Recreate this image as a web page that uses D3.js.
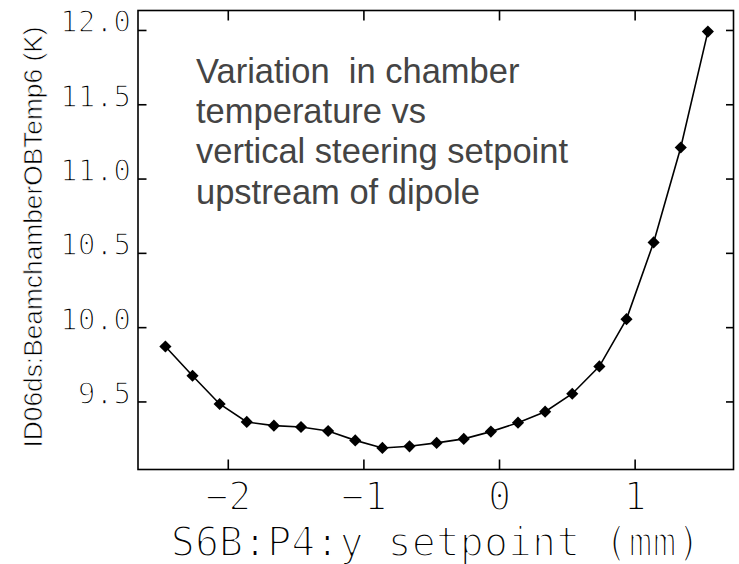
<!DOCTYPE html>
<html>
<head>
<meta charset="utf-8">
<script src="https://cdn.jsdelivr.net/npm/d3@7"></script>
<style>
  html, body { margin: 0; padding: 0; background: #fff; }
  svg { display: block; }
</style>
</head>
<body>
<svg id="chart" width="739" height="564"></svg>
<script>
// ---- data ----
const setpoint = [-2.46, -2.26, -2.06, -1.86, -1.66, -1.46, -1.26, -1.06, -0.86, -0.66,
                  -0.46, -0.26, -0.06, 0.14, 0.34, 0.54, 0.74, 0.94, 1.14, 1.34, 1.54];
const temperature = [9.870, 9.673, 9.483, 9.362, 9.337, 9.328, 9.301, 9.238, 9.187, 9.198,
                     9.221, 9.248, 9.297, 9.357, 9.431, 9.552, 9.736, 10.054, 10.570, 11.209, 11.989];
const xTicks = [-2, -1, 0, 1];
const yTicks = [9.5, 10.0, 10.5, 11.0, 11.5, 12.0];
const xDomain = [-2.662, 1.729];
const yDomain = [9.042, 12.131];
const xTitle = "S6B:P4:y setpoint (mm)";
const yTitle = "ID06ds:BeamchamberOBTemp6  (K)";
const noteLines = ["Variation  in chamber", "temperature vs", "vertical steering setpoint", "upstream of dipole"];

// ---- layout ----
const frame = { left: 138, right: 733.5, top: 10.5, bottom: 469.5 };
const svg = d3.select("#chart");

const x = d3.scaleLinear().domain(xDomain).range([frame.left, frame.right]);
const y = d3.scaleLinear().domain(yDomain).range([frame.bottom, frame.top]);

const monoFont = "'DejaVu Sans Mono', 'Liberation Mono', monospace";

function thin(sel, w) {
  sel.attr("stroke", "#fff").attr("stroke-width", w).style("paint-order", "fill stroke")
     .attr("stroke-linejoin", "round");
}

// frame
svg.append("rect")
  .attr("x", frame.left).attr("y", frame.top)
  .attr("width", frame.right - frame.left).attr("height", frame.bottom - frame.top)
  .attr("fill", "none").attr("stroke", "#000").attr("stroke-width", 1.6);

// bottom axis (inner ticks + labels)
const gx = svg.append("g").attr("transform", `translate(0,${frame.bottom})`)
  .call(d3.axisBottom(x).tickValues(xTicks).tickSizeInner(-10).tickSizeOuter(0)
        .tickPadding(0).tickFormat(d3.format("d")));
gx.select(".domain").remove();
gx.selectAll(".tick line").attr("stroke", "#000").attr("stroke-width", 1.6);
gx.selectAll(".tick text")
  .attr("y", 40.5).attr("dy", null)
  .attr("font-family", monoFont).attr("font-size", 38.5).attr("fill", "#000")
  .call(thin, 2);

// top axis ticks
const gxt = svg.append("g").attr("transform", `translate(0,${frame.top})`)
  .call(d3.axisTop(x).tickValues(xTicks).tickSizeInner(-10).tickSizeOuter(0).tickFormat(""));
gxt.select(".domain").remove();
gxt.selectAll(".tick line").attr("stroke", "#000").attr("stroke-width", 1.6);

// left axis
const gy = svg.append("g").attr("transform", `translate(${frame.left},0)`)
  .call(d3.axisLeft(y).tickValues(yTicks).tickSizeInner(-8.5).tickSizeOuter(0)
        .tickPadding(7).tickFormat(d3.format(".1f")));
gy.select(".domain").remove();
gy.selectAll(".tick line").attr("stroke", "#000").attr("stroke-width", 1.6);
gy.selectAll(".tick text")
  .attr("dy", null).attr("y", 2)
  .attr("font-family", monoFont).attr("font-size", 29.5).attr("fill", "#000")
  .call(thin, 1.5);

// right axis ticks
const gyr = svg.append("g").attr("transform", `translate(${frame.right},0)`)
  .call(d3.axisRight(y).tickValues(yTicks).tickSizeInner(-7.5).tickSizeOuter(0).tickFormat(""));
gyr.select(".domain").remove();
gyr.selectAll(".tick line").attr("stroke", "#000").attr("stroke-width", 1.6);

// axis titles
svg.append("text")
  .attr("x", (frame.left + frame.right) / 2).attr("y", 556)
  .attr("text-anchor", "middle")
  .attr("font-family", monoFont).attr("font-size", 40).attr("fill", "#000")
  .text(xTitle).call(thin, 2);

svg.append("text")
  .attr("transform", `translate(42,237) rotate(-90)`)
  .attr("text-anchor", "middle")
  .attr("font-family", "'Liberation Sans', Arial, sans-serif").attr("font-size", 26.3)
  .attr("fill", "#000")
  .text(yTitle).call(thin, 0.7);

// annotation
const note = svg.append("text")
  .attr("font-family", "'Liberation Sans', Arial, sans-serif")
  .attr("font-size", 34.5).attr("fill", "#444");
noteLines.forEach((t, i) => {
  note.append("tspan").attr("x", 196).attr("y", 83 + i * 40.2)
    .attr("xml:space", "preserve").style("white-space", "pre").text(t);
});

// series
const pts = setpoint.map((v, i) => [v, temperature[i]]);
svg.append("path")
  .datum(pts)
  .attr("fill", "none").attr("stroke", "#000").attr("stroke-width", 1.6)
  .attr("d", d3.line().x(d => x(d[0])).y(d => y(d[1])));

const sym = d3.symbol().type(d3.symbolSquare).size(74);
svg.append("g").selectAll("path")
  .data(pts)
  .join("path")
  .attr("transform", d => `translate(${x(d[0])},${y(d[1])}) rotate(45)`)
  .attr("d", sym)
  .attr("fill", "#000");
</script>
</body>
</html>
